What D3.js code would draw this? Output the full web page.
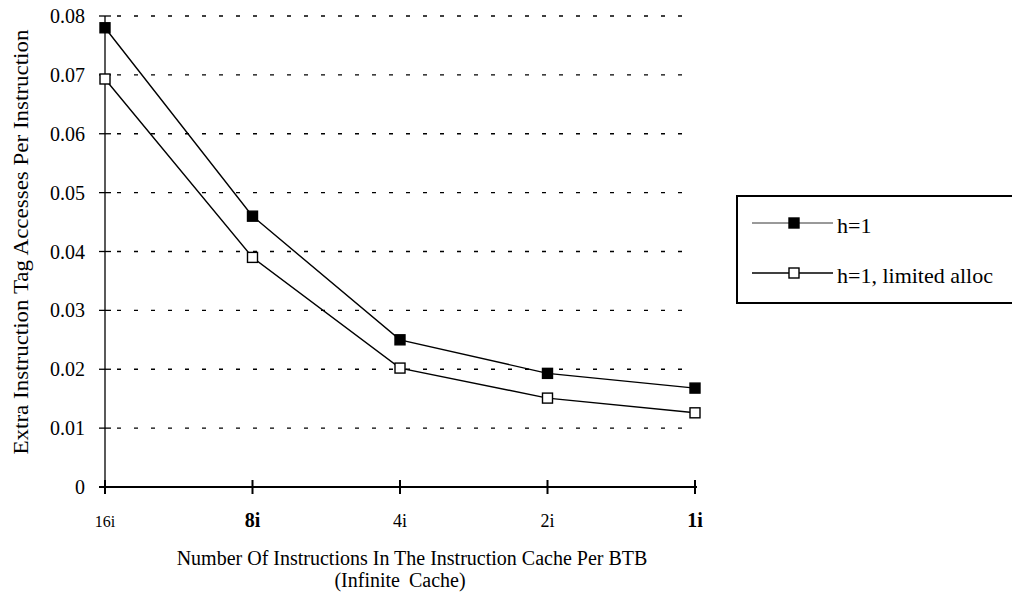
<!DOCTYPE html>
<html lang="en">
<head>
    <meta charset="UTF-8">
    <title>Extra Instruction Tag Accesses</title>
    <script src="https://d3js.org/d3.v7.min.js"></script>
    <style>
        body { margin: 0; background: #fff; }
        text { font-family: "Liberation Serif", "DejaVu Serif", serif; fill: #000; }
        .grid line { stroke: #000; stroke-width: 1.3; stroke-dasharray: 4,13; }
    </style>
</head>
<body>
    <svg width="1012" height="595"></svg>
    <script>
        const categories = ["16i", "8i", "4i", "2i", "1i"];
        const bigLabels = ["8i", "1i"];
        const h1 = [0.078, 0.046, 0.025, 0.0193, 0.0168];
        const h1Limited = [0.0693, 0.039, 0.0202, 0.0151, 0.0126];
        const yTicks = [0, 0.01, 0.02, 0.03, 0.04, 0.05, 0.06, 0.07, 0.08];
        const seriesNames = ["h=1", "h=1, limited alloc"];

        const svg = d3.select("svg");
        const plotLeft = 105, plotRight = 695, plotTop = 16, plotBottom = 487;

        const x = d3.scalePoint().domain(categories).range([plotLeft, plotRight]);
        const y = d3.scaleLinear().domain([0, 0.08]).range([plotBottom, plotTop]);

        // dashed gridlines
        svg.append("g").attr("class", "grid")
            .selectAll("line")
            .data(yTicks.filter(d => d > 0))
            .enter().append("line")
            .attr("x1", plotLeft + 12).attr("x2", plotRight - 5)
            .attr("y1", d => y(d)).attr("y2", d => y(d));

        // y axis
        svg.append("line")
            .attr("x1", plotLeft).attr("x2", plotLeft)
            .attr("y1", plotTop).attr("y2", plotBottom)
            .attr("stroke", "#000").attr("stroke-width", 1.3);
        svg.append("g").selectAll("line")
            .data(yTicks)
            .enter().append("line")
            .attr("x1", plotLeft - 6).attr("x2", plotLeft + 6)
            .attr("y1", d => y(d)).attr("y2", d => y(d))
            .attr("stroke", "#000").attr("stroke-width", 1.3);
        svg.append("g").selectAll("text")
            .data(yTicks)
            .enter().append("text")
            .attr("x", plotLeft - 20).attr("y", d => y(d) + 7)
            .attr("text-anchor", "end")
            .attr("font-size", 20)
            .text(d => d === 0 ? "0" : d3.format(".2f")(d));

        // x axis
        svg.append("line")
            .attr("x1", plotLeft - 6).attr("x2", plotRight + 2)
            .attr("y1", plotBottom).attr("y2", plotBottom)
            .attr("stroke", "#000").attr("stroke-width", 2.2);
        svg.append("g").selectAll("line")
            .data(categories)
            .enter().append("line")
            .attr("x1", d => x(d)).attr("x2", d => x(d))
            .attr("y1", plotBottom - 7).attr("y2", plotBottom + 7)
            .attr("stroke", "#000").attr("stroke-width", 2);
        svg.append("g").selectAll("text")
            .data(categories)
            .enter().append("text")
            .attr("x", d => x(d)).attr("y", 527)
            .attr("text-anchor", "middle")
            .attr("font-size", (d, i) => bigLabels.includes(d) ? 20 : (i === 0 ? 16 : 18))
            .attr("font-weight", d => bigLabels.includes(d) ? "bold" : "normal")
            .text(d => d);

        svg.append("text")
            .attr("x", 412).attr("y", 565)
            .attr("text-anchor", "middle").attr("font-size", 20)
            .text("Number Of Instructions In The Instruction Cache Per BTB");
        svg.append("text")
            .attr("x", 400).attr("y", 587)
            .attr("text-anchor", "middle").attr("font-size", 20)
            .attr("word-spacing", 4)
            .text("(Infinite Cache)");

        svg.append("text")
            .attr("transform", "translate(28,242) rotate(-90)")
            .attr("text-anchor", "middle").attr("font-size", 20)
            .attr("textLength", 425).attr("lengthAdjust", "spacingAndGlyphs")
            .text("Extra Instruction Tag Accesses Per Instruction");

        // series
        const line = d3.line().x((d, i) => x(categories[i])).y(d => y(d));
        const series = [
            { name: seriesNames[0], values: h1, fill: "#000" },
            { name: seriesNames[1], values: h1Limited, fill: "#fff" }
        ];
        series.forEach(s => {
            svg.append("path")
                .datum(s.values)
                .attr("d", line)
                .attr("fill", "none")
                .attr("stroke", "#000")
                .attr("stroke-width", 1.4);
            svg.append("g").selectAll("rect")
                .data(s.values)
                .enter().append("rect")
                .attr("x", (d, i) => x(categories[i]) - 5)
                .attr("y", d => y(d) - 5)
                .attr("width", 10).attr("height", 10)
                .attr("fill", s.fill)
                .attr("stroke", "#000").attr("stroke-width", 1.4);
        });

        // legend
        const lg = svg.append("g");
        lg.append("path")
            .attr("d", "M1012,196 H737 V303 H1012")
            .attr("fill", "none").attr("stroke", "#000").attr("stroke-width", 2);
        series.forEach((s, i) => {
            const ly = 223 + i * 50;
            lg.append("line")
                .attr("x1", 752).attr("x2", 833)
                .attr("y1", ly).attr("y2", ly)
                .attr("stroke", "#000").attr("stroke-width", i === 0 ? 0.8 : 1.4);
            lg.append("rect")
                .attr("x", 789).attr("y", ly - 5)
                .attr("width", 10).attr("height", 10)
                .attr("fill", s.fill).attr("stroke", "#000").attr("stroke-width", 1.4);
            lg.append("text")
                .attr("x", 837).attr("y", ly + 10)
                .attr("font-size", 22)
                .text(s.name);
        });
    </script>
</body>
</html>
